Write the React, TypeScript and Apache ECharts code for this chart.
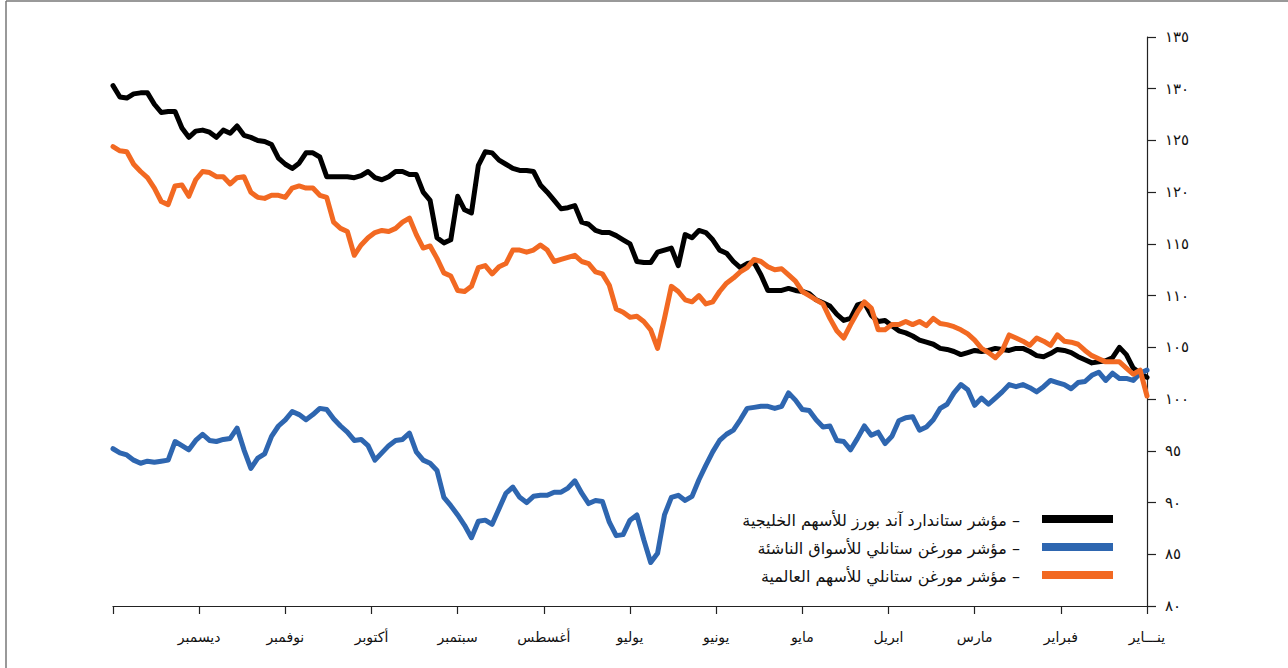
import React, { useEffect, useRef } from 'react';
import * as echarts from 'echarts';

// Month labels, January at the right end (axis is inverted)
const months = ['ينـــاير', 'فبراير', 'مارس', 'ابريل', 'مايو', 'يونيو', 'يوليو', 'أغسطس', 'سبتمبر', 'أكتوبر', 'نوفمبر', 'ديسمبر'];

const seriesNames = [
  'مؤشر ستاندارد آند بورز للأسهم الخليجية –',
  'مؤشر مورغن ستانلي للأسواق الناشئة –',
  'مؤشر مورغن ستانلي للأسهم العالمية –',
];
const seriesColors = ['#000000', '#2e66b0', '#f26922'];

// Values listed from the left edge (end of December) to the right edge (start of January)
const gulfValues = [
  130.3, 129.2, 129.1, 129.5, 129.6, 129.6, 128.5, 127.7, 127.8, 127.8,
  126.2, 125.3, 125.9, 126.0, 125.8, 125.3, 126.0, 125.7, 126.4, 125.5,
  125.3, 125.0, 124.9, 124.6, 123.3, 122.7, 122.3, 122.8, 123.8, 123.8,
  123.4, 121.5, 121.5, 121.5, 121.5, 121.4, 121.6, 122.0, 121.4, 121.2,
  121.5, 122.0, 122.0, 121.7, 121.7, 120.0, 119.2, 115.6, 115.1, 115.4,
  119.6, 118.3, 118.0, 122.6, 123.9, 123.8, 123.1, 122.7, 122.3, 122.1,
  122.1, 122.0, 120.7, 120.0, 119.2, 118.4, 118.5, 118.7, 117.1, 116.9,
  116.3, 116.1, 116.1, 115.8, 115.4, 115.0, 113.3, 113.2, 113.2, 114.2,
  114.4, 114.6, 112.9, 115.9, 115.6, 116.3, 116.1, 115.4, 114.4, 114.1,
  113.3, 112.7, 113.1, 113.2, 112.0, 110.5, 110.5, 110.5, 110.7, 110.5,
  110.4, 110.2, 109.6, 109.3, 109.0, 108.2, 107.6, 107.8, 109.1, 109.3,
  108.1, 107.5, 107.6, 107.1, 106.6, 106.4, 106.1, 105.7, 105.5, 105.3,
  104.9, 104.8, 104.6, 104.3, 104.5, 104.7, 104.6, 104.7, 104.9, 104.8,
  104.7, 104.9, 104.9, 104.6, 104.2, 104.1, 104.4, 104.8, 104.7, 104.5,
  104.1, 103.8, 103.5, 103.6, 103.7, 104.0, 105.0, 104.3, 103.0, 102.5, 102.1,
];

const emergingValues = [
  95.2, 94.8, 94.6, 94.1, 93.8, 94.0, 93.9, 94.0, 94.1, 95.9,
  95.5, 95.1, 96.0, 96.6, 96.0, 95.9, 96.1, 96.2, 97.2, 95.1,
  93.3, 94.3, 94.7, 96.4, 97.4, 98.0, 98.8, 98.5, 98.0, 98.5,
  99.1, 99.0, 98.1, 97.4, 96.8, 96.0, 96.1, 95.5, 94.1, 94.8,
  95.5, 96.0, 96.1, 96.7, 94.9, 94.1, 93.8, 93.1, 90.5, 89.7,
  88.8, 87.8, 86.6, 88.2, 88.3, 87.9, 89.4, 90.9, 91.5, 90.5,
  90.0, 90.6, 90.7, 90.7, 91.0, 91.0, 91.4, 92.1, 90.9, 89.9,
  90.2, 90.1, 88.1, 86.8, 86.9, 88.3, 88.8, 86.4, 84.2, 85.1,
  88.8, 90.5, 90.7, 90.2, 90.6, 92.2, 93.6, 94.9, 96.0, 96.6,
  97.0, 98.0, 99.1, 99.2, 99.3, 99.3, 99.1, 99.3, 100.6, 99.9,
  99.0, 98.9, 98.0, 97.3, 97.4, 96.0, 95.9, 95.1, 96.2, 97.4,
  96.5, 96.8, 95.7, 96.4, 97.9, 98.2, 98.3, 97.0, 97.3, 98.0,
  99.1, 99.5, 100.6, 101.4, 100.9, 99.4, 100.1, 99.5, 100.1, 100.7,
  101.4, 101.2, 101.4, 101.1, 100.7, 101.2, 101.8, 101.6, 101.4, 101.0,
  101.6, 101.7, 102.3, 102.6, 101.8, 102.5, 102.0, 102.0, 101.8, 102.5, 102.8,
];

const worldValues = [
  124.4, 124.0, 123.9, 122.7, 122.0, 121.4, 120.4, 119.1, 118.8, 120.6,
  120.7, 119.6, 121.2, 122.0, 121.9, 121.5, 121.5, 120.8, 121.4, 121.5,
  120.0, 119.5, 119.4, 119.7, 119.7, 119.5, 120.4, 120.6, 120.4, 120.4,
  119.7, 119.5, 117.1, 116.5, 116.2, 113.9, 114.9, 115.6, 116.1, 116.3,
  116.2, 116.5, 117.1, 117.5, 115.9, 114.6, 114.8, 113.6, 112.2, 111.9,
  110.5, 110.4, 110.9, 112.7, 112.9, 112.1, 112.8, 113.1, 114.4, 114.4,
  114.2, 114.4, 114.9, 114.4, 113.3, 113.5, 113.7, 113.9, 113.3, 113.1,
  112.3, 112.1, 111.0, 108.7, 108.4, 107.9, 108.0, 107.5, 106.7, 104.9,
  107.8, 110.9, 110.4, 109.6, 109.4, 110.0, 109.2, 109.4, 110.4, 111.2,
  111.7, 112.3, 112.7, 113.5, 113.3, 112.8, 112.5, 112.6, 112.0, 111.4,
  110.4, 110.0, 109.6, 109.2, 107.8, 106.6, 105.9, 107.2, 108.4, 109.4,
  108.8, 106.7, 106.7, 107.2, 107.2, 107.5, 107.2, 107.5, 107.1, 107.8,
  107.3, 107.2, 107.0, 106.7, 106.3, 105.7, 104.9, 104.5, 104.0, 104.7,
  106.2, 105.9, 105.6, 105.2, 105.9, 105.6, 105.2, 106.2, 105.6, 105.5,
  105.3, 104.7, 104.2, 103.9, 103.6, 103.6, 103.6, 103.0, 102.4, 102.8, 100.3,
];

const Y_MIN = 80;
const Y_MAX = 135;
const Y_STEP = 5;
const MONTH_SPAN = 12;

const arabicDigits = '٠١٢٣٤٥٦٧٨٩';
const toArabic = (n: number) => String(n).replace(/\d/g, (d) => arabicDigits[Number(d)]);

const FONT = '"DejaVu Sans", "Noto Sans", sans-serif';

export default function App() {
  const ref = useRef<HTMLDivElement>(null);

  useEffect(() => {
    document.body.style.margin = '0';
    if (!ref.current) return;
    const chart = echarts.init(ref.current, null, { renderer: 'svg' });

    const toXY = (arr: number[]) =>
      arr.map((v, i) => [MONTH_SPAN - (i * MONTH_SPAN) / (arr.length - 1), v]);

    const allValues = [gulfValues, emergingValues, worldValues];

    const legendGraphics: any[] = [];
    seriesNames.forEach((name, i) => {
      legendGraphics.push({
        type: 'rect',
        shape: { x: 1042, y: 515 + i * 28, width: 71, height: 8 },
        style: { fill: seriesColors[i] },
      });
      legendGraphics.push({
        type: 'text',
        x: 1020,
        y: 520 + i * 28,
        style: {
          text: name,
          align: 'right',
          verticalAlign: 'middle',
          fontSize: 16,
          fontFamily: FONT,
          fill: '#111',
        },
      });
    });

    chart.setOption({
      animation: false,
      backgroundColor: '#ffffff',
      grid: { left: 113, right: 141, top: 37, bottom: 62, containLabel: false },
      xAxis: {
        type: 'value',
        inverse: true,
        min: 0,
        max: MONTH_SPAN,
        interval: 1,
        position: 'bottom',
        axisLine: { show: true, lineStyle: { color: '#222', width: 1.2 } },
        axisTick: { show: true, length: 8, lineStyle: { color: '#222', width: 1.2 } },
        axisLabel: {
          margin: 24,
          fontSize: 14,
          fontFamily: FONT,
          color: '#111',
          showMinLabel: true,
          showMaxLabel: true,
          formatter: (v: number) => months[Math.round(v)] ?? '',
        },
        splitLine: { show: false },
      },
      yAxis: {
        type: 'value',
        position: 'right',
        min: Y_MIN,
        max: Y_MAX,
        interval: Y_STEP,
        axisLine: { show: true, lineStyle: { color: '#222', width: 1.2 } },
        axisTick: { show: true, inside: false, length: 9, lineStyle: { color: '#222', width: 1.2 } },
        axisLabel: {
          margin: 18,
          fontSize: 15,
          fontFamily: FONT,
          color: '#111',
          formatter: (v: number) => toArabic(v),
        },
        splitLine: { show: false },
      },
      series: seriesNames.map((name, i) => ({
        name,
        type: 'line',
        data: toXY(allValues[i]),
        showSymbol: false,
        symbol: 'none',
        smooth: false,
        lineStyle: { color: seriesColors[i], width: 5, cap: 'round', join: 'round' },
        itemStyle: { color: seriesColors[i] },
        z: 2 + i,
      })),
      graphic: [
        {
          type: 'line',
          shape: { x1: 6, y1: 1, x2: 6, y2: 668 },
          style: { stroke: '#777', lineWidth: 1.5 },
        },
        {
          type: 'line',
          shape: { x1: 6, y1: 1, x2: 1288, y2: 1 },
          style: { stroke: '#777', lineWidth: 1.5 },
        },
        ...legendGraphics,
      ],
    });

    return () => chart.dispose();
  }, []);

  return <div ref={ref} style={{ width: 1288, height: 668 }} />;
}
